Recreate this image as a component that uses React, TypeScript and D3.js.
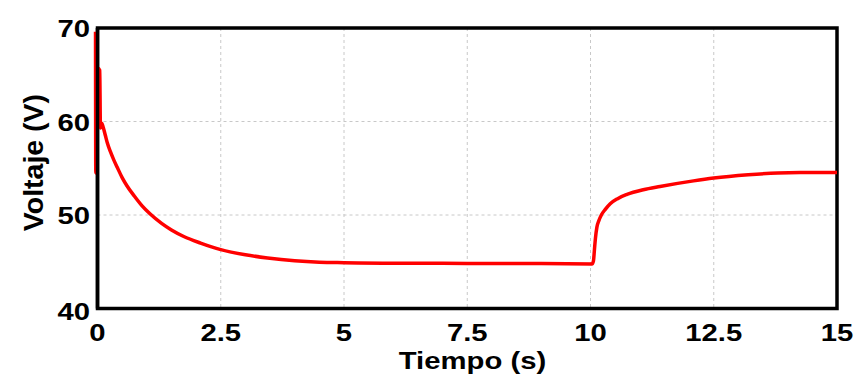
import * as d3 from 'd3';

const times = [-0.04, -0.035, 0.012, 0.045, 0.06, 0.085, 0.12, 0.16, 0.2, 0.26, 0.33, 0.4, 0.5, 0.6, 0.75, 0.9, 1.07, 1.3, 1.5, 1.75, 2.09, 2.5, 3.0, 3.45, 4.0, 4.5, 5.0, 6.0, 7.0, 8.0, 9.0, 10.03, 10.06, 10.08, 10.1, 10.13, 10.17, 10.22, 10.3, 10.4, 10.55, 10.74, 11.07, 11.41, 12.09, 12.5, 13.2, 13.8, 14.25, 15];
const voltage = [69.6, 54.5, 65.7, 65.5, 59.3, 59.8, 59.3, 58.5, 57.7, 56.8, 55.9, 55.1, 54.0, 53.1, 52.0, 51.0, 50.1, 49.1, 48.4, 47.7, 47.0, 46.3, 45.75, 45.4, 45.1, 44.95, 44.9, 44.85, 44.85, 44.8, 44.8, 44.75, 45.1, 46.3, 47.5, 48.7, 49.4, 50.0, 50.6, 51.2, 51.75, 52.2, 52.7, 53.05, 53.65, 53.95, 54.3, 54.5, 54.55, 54.55];
const xTicks = [0, 2.5, 5, 7.5, 10, 12.5, 15];
const yTicks = [40, 50, 60, 70];

const W = 861;
const H = 383;
// plot frame in page pixels
const left = 97.5, right = 837, top = 28, bottom = 308.5;
const font = '"Liberation Sans", Arial, sans-serif';
const stretch = 1.22;

export default function App() {
  const x = d3.scaleLinear().domain([0, 15]).range([left, right]);
  const y = d3.scaleLinear().domain([40, 70]).range([bottom, top]);

  const points: [number, number][] = times.map((t, i) => [t, voltage[i]]);
  const line = d3.line<[number, number]>()
    .x(d => x(d[0]))
    .y(d => y(d[1]))
    .curve(d3.curveMonotoneX);

  return (
    <svg width={W} height={H} style={{ position: 'absolute', left: 0, top: 0 }}>
      <rect width={W} height={H} fill="#fff" />
      {/* grid */}
      {xTicks.slice(1, -1).map(t => (
        <line key={'gx' + t} x1={x(t)} x2={x(t)} y1={top} y2={bottom}
          stroke="#c8c8c8" strokeWidth={1} strokeDasharray="3,3" />
      ))}
      {yTicks.slice(1, -1).map(v => (
        <line key={'gy' + v} x1={left} x2={right} y1={y(v)} y2={y(v)}
          stroke="#c8c8c8" strokeWidth={1} strokeDasharray="3,3" />
      ))}

      <rect x={left} y={top} width={right - left} height={bottom - top}
        fill="none" stroke="#000" strokeWidth={3.5} />

      <path d={line(points) || ''} fill="none" stroke="#ff0000" strokeWidth={3.5}
        strokeLinejoin="round" />
      {/* left axis again so the trace sits under it like the original */}
      <line x1={left} x2={left} y1={top} y2={bottom} stroke="#000" strokeWidth={3.5} />

      {/* tick labels */}
      {xTicks.map(t => (
        <text key={'tx' + t} transform={`translate(${x(t)},${341}) scale(${stretch},1)`}
          textAnchor="middle" fontFamily={font} fontWeight="bold" fontSize={24}>{t}</text>
      ))}
      {yTicks.map(v => (
        <text key={'ty' + v} transform={`translate(90,${y(v) + (v === 40 ? 11 : 9)}) scale(${stretch},1)`}
          textAnchor="end" fontFamily={font} fontWeight="bold" fontSize={24}>{v}</text>
      ))}

      <text transform={`translate(472.5,369) scale(${stretch},1)`} textAnchor="middle"
        fontFamily={font} fontWeight="bold" fontSize={24}>Tiempo (s)</text>
      <text transform="translate(43,162.5) rotate(-90)" textAnchor="middle"
        fontFamily={font} fontWeight="bold" fontSize={28.5}>Voltaje (V)</text>
    </svg>
  );
}
